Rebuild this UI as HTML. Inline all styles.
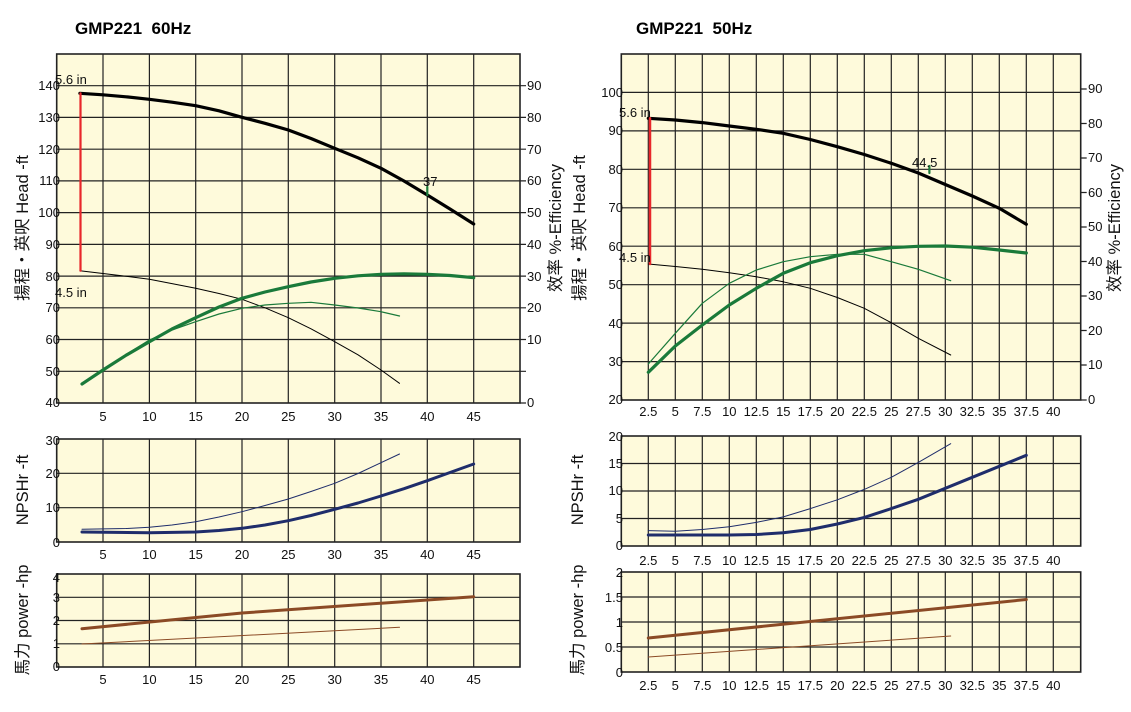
<!DOCTYPE html>
<html><head><meta charset="utf-8"><style>
body{margin:0;background:#fff;}
svg{display:block;font-family:"Liberation Sans","Noto Sans CJK TC",sans-serif;}
.g{stroke:#222;stroke-width:1.2;fill:none}
.t{font-size:13px;fill:#111}
.at{font-size:16.5px;fill:#111}
.ti{font-size:17px;font-weight:bold;white-space:pre}
</style></head><body>
<svg width="1131" height="712" viewBox="0 0 1131 712" xmlns="http://www.w3.org/2000/svg">
<text class="ti" x="75" y="34" xml:space="preserve">GMP221  60Hz</text>
<text class="ti" x="636" y="34" xml:space="preserve">GMP221  50Hz</text>

<!-- LEFT TOP -->
<rect x="56.7" y="54" width="463.3" height="349" fill="#fefadb"/>
<g class="g">
<path d="M103,54V403M149.4,54V403M195.7,54V403M242,54V403M288.3,54V403M334.7,54V403M381,54V403M427.3,54V403M473.7,54V403"/>
<path d="M56.7,85.7H520M56.7,117.4H520M56.7,149.2H520M56.7,180.9H520M56.7,212.6H520M56.7,244.4H520M56.7,276.1H520M56.7,307.8H520M56.7,339.5H520M56.7,371.3H520"/>
<rect x="56.7" y="54" width="463.3" height="349" stroke-width="1.6"/>
<path d="M520,85.7h6M520,117.4h6M520,149.2h6M520,180.9h6M520,212.6h6M520,244.4h6M520,276.1h6M520,307.8h6M520,339.5h6M520,371.3h6M520,403h6"/>
</g>
<g class="t" text-anchor="end">
<text x="60" y="90">140</text><text x="60" y="122">130</text><text x="60" y="154">120</text><text x="60" y="185">110</text><text x="60" y="217">100</text><text x="60" y="249">90</text><text x="60" y="281">80</text><text x="60" y="312">70</text><text x="60" y="344">60</text><text x="60" y="376">50</text><text x="60" y="407">40</text>
</g>
<g class="t">
<text x="527" y="90">90</text><text x="527" y="122">80</text><text x="527" y="154">70</text><text x="527" y="185">60</text><text x="527" y="217">50</text><text x="527" y="249">40</text><text x="527" y="281">30</text><text x="527" y="312">20</text><text x="527" y="344">10</text><text x="527" y="407">0</text>
</g>
<g class="t" text-anchor="middle">
<text x="103" y="421">5</text><text x="149.4" y="421">10</text><text x="195.7" y="421">15</text><text x="242" y="421">20</text><text x="288.3" y="421">25</text><text x="334.7" y="421">30</text><text x="381" y="421">35</text><text x="427.3" y="421">40</text><text x="473.7" y="421">45</text>
</g>
<g fill="none" stroke-linejoin="round" stroke-linecap="round">
<polyline stroke="#000" stroke-width="3.2" points="79.9,93.3 103,94.8 126,96.8 149.4,99.3 172,102.2 195.7,105.7 219,110.8 242,117.3 265,123.3 288.3,130 311,138.5 334.7,148.3 358,157.8 381,168.3 404,181 427.3,195 450,209 473.7,224"/>
<polyline stroke="#000" stroke-width="1" points="79.9,270.7 103,273.5 126,276.3 149.4,279.3 172,283.6 195.7,288.3 219,293.5 242,299.3 265,307.8 288.3,317.7 311,328.8 334.7,341.7 358,354.8 381,370 399.5,383.3"/>
<polyline stroke="#1a7a3a" stroke-width="3.2" points="82,384 103,370 126,355.3 149.4,341.7 172,329 195.7,317.7 219,307 242,298.3 265,292 288.3,286.7 311,282 334.7,278.3 358,275.8 381,274.3 404,273.8 427.3,274.3 450,275.5 473.7,277.7"/>
<polyline stroke="#1a7a3a" stroke-width="1.2" points="82,384 103,370 126,354.5 149.4,340 172,330 195.7,321.7 219,314 242,308.3 265,305 288.3,303.3 311,302.3 334.7,305 358,308 381,311.7 399.5,316"/>
<line x1="80.5" y1="93.3" x2="80.5" y2="270.7" stroke="#e8262b" stroke-width="2.2"/>
<line x1="427.3" y1="195" x2="427.3" y2="187" stroke="#1a7a3a" stroke-width="2.2"/>
</g>
<g class="t"><text x="55" y="84">5.6 in</text><text x="55" y="297">4.5 in</text><text x="423" y="186">37</text></g>
<text class="at" transform="translate(28,228) rotate(-90)" text-anchor="middle">揚程・英呎  Head -ft</text>
<text class="at" transform="translate(561,228) rotate(-90)" text-anchor="middle">效率  %-Efficiency</text>

<!-- LEFT NPSH -->
<rect x="56.7" y="439" width="463.3" height="103" fill="#fefadb"/>
<g class="g">
<path d="M103,439V542M149.4,439V542M195.7,439V542M242,439V542M288.3,439V542M334.7,439V542M381,439V542M427.3,439V542M473.7,439V542"/>
<path d="M56.7,473.3H520M56.7,507.7H520"/>
<rect x="56.7" y="439" width="463.3" height="103" stroke-width="1.6"/>
</g>
<g class="t" text-anchor="end"><text x="60" y="445">30</text><text x="60" y="478">20</text><text x="60" y="512">10</text><text x="60" y="547">0</text></g>
<g class="t" text-anchor="middle">
<text x="103" y="559">5</text><text x="149.4" y="559">10</text><text x="195.7" y="559">15</text><text x="242" y="559">20</text><text x="288.3" y="559">25</text><text x="334.7" y="559">30</text><text x="381" y="559">35</text><text x="427.3" y="559">40</text><text x="473.7" y="559">45</text>
</g>
<g fill="none" stroke-linejoin="round" stroke-linecap="round">
<polyline stroke="#1f2d6b" stroke-width="3" points="82,532 149.4,532.7 195.7,532 219,530.5 242,528.3 265,525 288.3,520.7 311,515.5 334.7,509.3 358,503 381,496 404,488.7 427.3,480.7 450,472.5 473.7,464"/>
<polyline stroke="#1f2d6b" stroke-width="1" points="82,529.3 126,528.5 149.4,527.3 172,525 195.7,521.7 219,517 242,511.7 265,505.5 288.3,499 311,491.5 334.7,483.3 358,473.5 381,462.7 399.5,454"/>
</g>
<text class="at" transform="translate(28,490) rotate(-90)" text-anchor="middle">NPSHr -ft</text>

<!-- LEFT POWER -->
<rect x="56.7" y="574" width="463.3" height="93" fill="#fefadb"/>
<g class="g">
<path d="M103,574V667M149.4,574V667M195.7,574V667M242,574V667M288.3,574V667M334.7,574V667M381,574V667M427.3,574V667M473.7,574V667"/>
<path d="M56.7,597.3H520M56.7,620.5H520M56.7,643.8H520"/>
<rect x="56.7" y="574" width="463.3" height="93" stroke-width="1.6"/>
</g>
<g class="t" text-anchor="end"><text x="60" y="582">4</text><text x="60" y="602">3</text><text x="60" y="625">2</text><text x="60" y="648">1</text><text x="60" y="671">0</text></g>
<g class="t" text-anchor="middle">
<text x="103" y="684">5</text><text x="149.4" y="684">10</text><text x="195.7" y="684">15</text><text x="242" y="684">20</text><text x="288.3" y="684">25</text><text x="334.7" y="684">30</text><text x="381" y="684">35</text><text x="427.3" y="684">40</text><text x="473.7" y="684">45</text>
</g>
<g fill="none" stroke-linecap="round">
<polyline stroke="#8b4a25" stroke-width="3" points="82,628.7 242,613 473.7,596.7"/>
<polyline stroke="#8b4a25" stroke-width="1" points="82,644 399.5,627.3"/>
</g>
<text class="at" transform="translate(28,620) rotate(-90)" text-anchor="middle">馬力  power -hp</text>

<!-- RIGHT TOP -->
<rect x="621.3" y="54" width="459.4" height="346" fill="#fefadb"/>
<g class="g">
<path d="M648.3,54V400M675.3,54V400M702.3,54V400M729.3,54V400M756.3,54V400M783.3,54V400M810.3,54V400M837.3,54V400M864.3,54V400M891.3,54V400M918.3,54V400M945.3,54V400M972.3,54V400M999.3,54V400M1026.3,54V400M1053.3,54V400"/>
<path d="M621.3,92.4H1080.7M621.3,130.9H1080.7M621.3,169.3H1080.7M621.3,207.8H1080.7M621.3,246.2H1080.7M621.3,284.7H1080.7M621.3,323.1H1080.7M621.3,361.6H1080.7"/>
<rect x="621.3" y="54" width="459.4" height="346" stroke-width="1.6"/>
<path d="M1080.7,89h6M1080.7,123.5h6M1080.7,158h6M1080.7,192.5h6M1080.7,227h6M1080.7,261.5h6M1080.7,296h6M1080.7,330.5h6M1080.7,365h6M1080.7,400h6"/>
</g>
<g class="t" text-anchor="end">
<text x="623" y="97">100</text><text x="623" y="135">90</text><text x="623" y="174">80</text><text x="623" y="212">70</text><text x="623" y="251">60</text><text x="623" y="289">50</text><text x="623" y="328">40</text><text x="623" y="366">30</text><text x="623" y="404">20</text>
</g>
<g class="t">
<text x="1088" y="93">90</text><text x="1088" y="128">80</text><text x="1088" y="162">70</text><text x="1088" y="197">60</text><text x="1088" y="231">50</text><text x="1088" y="266">40</text><text x="1088" y="300">30</text><text x="1088" y="335">20</text><text x="1088" y="369">10</text><text x="1088" y="404">0</text>
</g>
<g class="t" text-anchor="middle">
<text x="648.3" y="416">2.5</text><text x="675.3" y="416">5</text><text x="702.3" y="416">7.5</text><text x="729.3" y="416">10</text><text x="756.3" y="416">12.5</text><text x="783.3" y="416">15</text><text x="810.3" y="416">17.5</text><text x="837.3" y="416">20</text><text x="864.3" y="416">22.5</text><text x="891.3" y="416">25</text><text x="918.3" y="416">27.5</text><text x="945.3" y="416">30</text><text x="972.3" y="416">32.5</text><text x="999.3" y="416">35</text><text x="1026.3" y="416">37.5</text><text x="1053.3" y="416">40</text>
</g>
<g fill="none" stroke-linejoin="round" stroke-linecap="round">
<polyline stroke="#000" stroke-width="3.2" points="648.3,118.3 675.3,120 702.3,122.6 729.3,126 756.3,129.3 783.3,133.3 810.3,139.5 837.3,146.7 864.3,154.5 891.3,163.3 918.3,173 945.3,184.5 972.3,196 999.3,208.3 1026.3,224.3"/>
<polyline stroke="#000" stroke-width="1" points="648.3,264 675.3,266.5 702.3,269.3 729.3,272.7 756.3,276.7 783.3,281.8 810.3,288.3 837.3,297.5 864.3,308.3 891.3,322.7 918.3,338.3 950.7,355"/>
<polyline stroke="#1a7a3a" stroke-width="3.2" points="648.3,372.3 675.3,346 702.3,325 729.3,305 756.3,288.3 783.3,273.3 810.3,262.7 837.3,255.7 864.3,250.7 891.3,247.7 918.3,246.3 945.3,246 972.3,247.2 999.3,250 1026.3,253"/>
<polyline stroke="#1a7a3a" stroke-width="1.2" points="648.3,364 675.3,333.3 702.3,303.3 729.3,283.3 756.3,270 783.3,261.7 810.3,256.7 837.3,254.3 864.3,254.3 891.3,261.7 918.3,269.3 950.7,280.7"/>
<line x1="650" y1="118.3" x2="650" y2="264" stroke="#e8262b" stroke-width="2.5"/>
<line x1="929.4" y1="173" x2="929.4" y2="166" stroke="#1a7a3a" stroke-width="2.2"/>
</g>
<g class="t"><text x="619" y="117">5.6 in</text><text x="619" y="262">4.5 in</text><text x="912" y="167">44.5</text></g>
<text class="at" transform="translate(585,228) rotate(-90)" text-anchor="middle">揚程・英呎  Head -ft</text>
<text class="at" transform="translate(1120,228) rotate(-90)" text-anchor="middle">效率  %-Efficiency</text>

<!-- RIGHT NPSH -->
<rect x="621.3" y="436" width="459.4" height="110" fill="#fefadb"/>
<g class="g">
<path d="M648.3,436V546M675.3,436V546M702.3,436V546M729.3,436V546M756.3,436V546M783.3,436V546M810.3,436V546M837.3,436V546M864.3,436V546M891.3,436V546M918.3,436V546M945.3,436V546M972.3,436V546M999.3,436V546M1026.3,436V546M1053.3,436V546"/>
<path d="M621.3,463.5H1080.7M621.3,491H1080.7M621.3,518.5H1080.7"/>
<rect x="621.3" y="436" width="459.4" height="110" stroke-width="1.6"/>
</g>
<g class="t" text-anchor="end"><text x="623" y="441">20</text><text x="623" y="468">15</text><text x="623" y="495">10</text><text x="623" y="523">5</text><text x="623" y="550">0</text></g>
<g class="t" text-anchor="middle">
<text x="648.3" y="565">2.5</text><text x="675.3" y="565">5</text><text x="702.3" y="565">7.5</text><text x="729.3" y="565">10</text><text x="756.3" y="565">12.5</text><text x="783.3" y="565">15</text><text x="810.3" y="565">17.5</text><text x="837.3" y="565">20</text><text x="864.3" y="565">22.5</text><text x="891.3" y="565">25</text><text x="918.3" y="565">27.5</text><text x="945.3" y="565">30</text><text x="972.3" y="565">32.5</text><text x="999.3" y="565">35</text><text x="1026.3" y="565">37.5</text><text x="1053.3" y="565">40</text>
</g>
<g fill="none" stroke-linejoin="round" stroke-linecap="round">
<polyline stroke="#1f2d6b" stroke-width="3" points="648.3,535 729.3,535 756.3,534.5 783.3,532.8 810.3,529.5 837.3,524 864.3,517.4 891.3,508.6 918.3,499.3 945.3,488.3 972.3,477.3 999.3,466.3 1026.3,455.3"/>
<polyline stroke="#1f2d6b" stroke-width="1" points="648.3,530.6 675.3,531.2 702.3,529.5 729.3,526.8 756.3,522.4 783.3,516.9 810.3,508.6 837.3,499.8 864.3,489.4 891.3,477.3 918.3,462.4 950.7,443.7"/>
</g>
<text class="at" transform="translate(583,490) rotate(-90)" text-anchor="middle">NPSHr -ft</text>

<!-- RIGHT POWER -->
<rect x="621.3" y="572" width="459.4" height="100" fill="#fefadb"/>
<g class="g">
<path d="M648.3,572V672M675.3,572V672M702.3,572V672M729.3,572V672M756.3,572V672M783.3,572V672M810.3,572V672M837.3,572V672M864.3,572V672M891.3,572V672M918.3,572V672M945.3,572V672M972.3,572V672M999.3,572V672M1026.3,572V672M1053.3,572V672"/>
<path d="M621.3,597H1080.7M621.3,622H1080.7M621.3,647H1080.7"/>
<rect x="621.3" y="572" width="459.4" height="100" stroke-width="1.6"/>
</g>
<g class="t" text-anchor="end"><text x="623" y="577">2</text><text x="623" y="602">1.5</text><text x="623" y="627">1</text><text x="623" y="652">0.5</text><text x="623" y="677">0</text></g>
<g class="t" text-anchor="middle">
<text x="648.3" y="690">2.5</text><text x="675.3" y="690">5</text><text x="702.3" y="690">7.5</text><text x="729.3" y="690">10</text><text x="756.3" y="690">12.5</text><text x="783.3" y="690">15</text><text x="810.3" y="690">17.5</text><text x="837.3" y="690">20</text><text x="864.3" y="690">22.5</text><text x="891.3" y="690">25</text><text x="918.3" y="690">27.5</text><text x="945.3" y="690">30</text><text x="972.3" y="690">32.5</text><text x="999.3" y="690">35</text><text x="1026.3" y="690">37.5</text><text x="1053.3" y="690">40</text>
</g>
<g fill="none" stroke-linecap="round">
<polyline stroke="#8b4a25" stroke-width="3" points="648.3,638 1026.3,599.5"/>
<polyline stroke="#8b4a25" stroke-width="1" points="648.3,657 950.7,636"/>
</g>
<text class="at" transform="translate(583,620) rotate(-90)" text-anchor="middle">馬力  power -hp</text>
</svg>
</body></html>
